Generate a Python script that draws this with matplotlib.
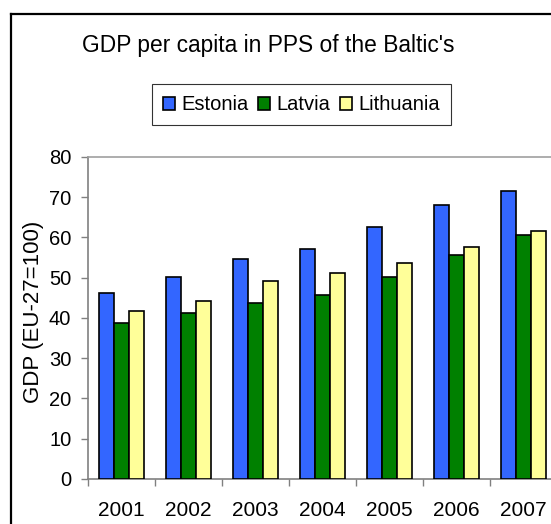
import matplotlib.pyplot as plt
import numpy as np
from matplotlib.lines import Line2D

plt.rcParams['font.family'] = ['Liberation Sans', 'DejaVu Sans']

years = ['2001', '2002', '2003', '2004', '2005', '2006', '2007']
estonia = [46.1, 50.2, 54.7, 57.1, 62.5, 68.0, 71.5]
latvia = [38.7, 41.2, 43.6, 45.6, 50.2, 55.6, 60.5]
lithuania = [41.7, 44.1, 49.1, 51.2, 53.6, 57.6, 61.6]

fig = plt.figure(figsize=(5.51, 5.24), dpi=100, facecolor='white')
ax = fig.add_axes([0.1597, 0.0859, 0.851, 0.6145])

x = np.arange(len(years))
w = 0.222
series = [('Estonia', estonia, '#3366FF'),
          ('Latvia', latvia, '#008000'),
          ('Lithuania', lithuania, '#FFFF99')]
for i, (name, vals, col) in enumerate(series):
    ax.bar(x + (i - 1) * w, vals, width=w, color=col, edgecolor='black',
           linewidth=1.2, label=name, zorder=3)

ax.set_xlim(-0.5, len(years) - 0.5)
ax.set_ylim(0, 80)
ax.set_yticks(range(0, 81, 10))
ax.set_xticks(x)
ax.set_xticklabels(years)
ax.set_xticks(np.arange(-0.5, len(years)), minor=True)
ax.tick_params(axis='x', which='major', length=0, pad=16, labelsize=15)
ax.tick_params(axis='x', which='minor', length=5, width=1, color='#808080')
ax.tick_params(axis='y', length=5, width=1, color='#808080', labelsize=14.5, pad=7)
# white boxes behind the value labels, so they sit over the axis title
for lab in ax.get_yticklabels():
    lab.set_bbox(dict(facecolor='white', edgecolor='none', pad=0.5))

ax.spines['right'].set_visible(False)
for s in ['left', 'bottom']:
    ax.spines[s].set_color('#808080')
    ax.spines[s].set_linewidth(1.2)
ax.spines['top'].set_color('#A0A0A0')
ax.spines['top'].set_linewidth(1.2)

# axis title drawn beneath the tick labels
ax.text(-0.094, 0.519, 'GDP (EU-27=100)', transform=ax.transAxes,
        rotation=90, ha='right', va='center', fontsize=16,
        clip_on=False, zorder=1)

fig.text(0.487, 0.914, "GDP per capita in PPS of the Baltic's",
         ha='center', va='center', fontsize=16.4)

leg = fig.legend(loc='center', bbox_to_anchor=(0.547, 0.80), ncol=3,
                 fontsize=14.5, frameon=True, fancybox=False, shadow=False,
                 handlelength=0.6, handleheight=0.6, handletextpad=0.3,
                 columnspacing=0.5, borderpad=0.55, borderaxespad=0)
leg.get_frame().set_edgecolor('black')
leg.get_frame().set_linewidth(0.8)

# outer chart frame (left and top edges visible)
fig.add_artist(Line2D([0.02, 0.02], [0.0, 0.973], color='black', lw=1.6,
                      transform=fig.transFigure))
fig.add_artist(Line2D([0.02, 1.0], [0.973, 0.973], color='black', lw=1.6,
                      transform=fig.transFigure))

fig.savefig('out.png', dpi=100, facecolor='white')
